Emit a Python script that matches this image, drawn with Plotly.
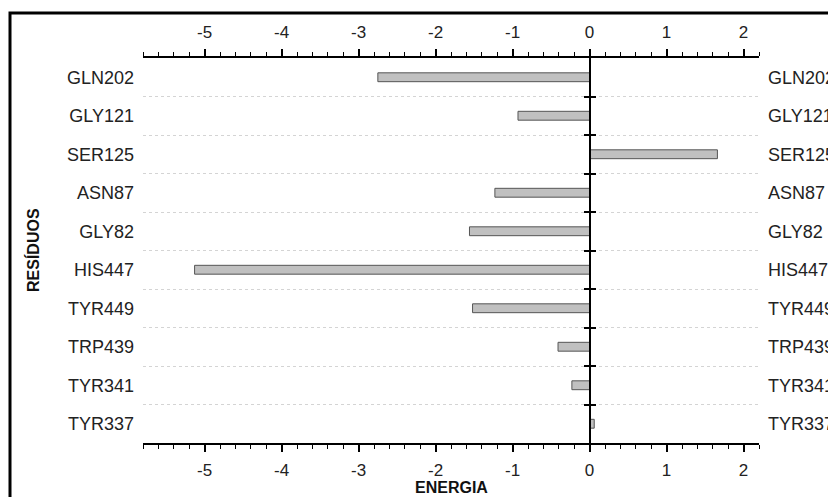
import plotly.graph_objects as go

residues = ["GLN202", "GLY121", "SER125", "ASN87", "GLY82",
            "HIS447", "TYR449", "TRP439", "TYR341", "TYR337"]
energy = [-2.75, -0.93, 1.66, -1.23, -1.56, -5.13, -1.52, -0.41, -0.23, 0.06]
x_ticks = [-5, -4, -3, -2, -1, 0, 1, 2]
x_tick_labels = ["-5", "-4", "-3", "-2", "-1", "0", "1", "2"]

idx = list(range(len(residues)))
bounds = [i + 0.5 for i in idx[:-1]]
yr = [len(residues) - 0.5, -0.5]
xr = [-5.8, 2.2]
zero_pos = (0 - xr[0]) / (xr[1] - xr[0])

FONT = "Liberation Sans, Arial, sans-serif"
# page body has an 8px default margin; figure is sized to fit the window
OFF = 8
W, H = 836 - OFF, 497 - OFF
PL, PR, PT, PB = 143, 759, 58, 443  # plot area in screen pixels
PW, PH = PR - PL, PB - PT

fig = go.Figure()
fig.add_trace(go.Bar(
    x=energy, y=idx, orientation="h", width=0.23,
    marker=dict(color="#c0c0c0", line=dict(color="#555555", width=1)),
    showlegend=False, hoverinfo="x+y",
))
fig.add_trace(go.Scatter(x=[xr[0]], y=[0], xaxis="x2", yaxis="y", mode="markers",
                         marker=dict(opacity=0), showlegend=False, hoverinfo="skip"))

common_x = dict(range=xr, tickvals=x_ticks, ticktext=x_tick_labels, showgrid=False, zeroline=False,
                showline=True, linecolor="black", linewidth=1.5, automargin=False,
                ticks="outside", ticklen=7, tickwidth=1.5, tickcolor="black",
                ticklabelstandoff=4,
                minor=dict(dtick=0.2, ticks="outside", ticklen=4, tickwidth=1, tickcolor="black"),
                tickfont=dict(family=FONT, size=17, color="#222"))

fig.update_layout(
    width=W, height=H,
    margin=dict(l=PL - OFF, r=W - (PR - OFF), t=PT - OFF, b=H - (PB - OFF)),
    paper_bgcolor="white", plot_bgcolor="white",
    xaxis=dict(**common_x, side="bottom"),
    xaxis2=dict(**common_x, side="top", overlaying="x", anchor="y", matches="x"),
    yaxis=dict(range=yr, tickvals=idx, ticktext=residues, showgrid=False, zeroline=False,
               showline=False, ticks="", ticklabelstandoff=8, automargin=False,
               tickfont=dict(family=FONT, size=18, color="#222")),
    yaxis2=dict(range=yr, tickvals=idx, ticktext=residues, overlaying="y", side="right",
                showgrid=False, zeroline=False, showline=False, ticks="", anchor="x",
                ticklabelstandoff=8, automargin=False,
                tickfont=dict(family=FONT, size=18, color="#222")),
    yaxis3=dict(range=yr, tickvals=bounds, overlaying="y", anchor="free", position=zero_pos,
                side="left", showticklabels=False, showgrid=True, gridcolor="#d4d4d4",
                griddash="dot", gridwidth=1, zeroline=False, automargin=False,
                showline=True, linecolor="black", linewidth=1.5,
                ticks="outside", ticklen=5, tickwidth=1.5, tickcolor="black"),
    yaxis4=dict(range=yr, tickvals=bounds, overlaying="y", anchor="free", position=zero_pos,
                side="left", showticklabels=False, showgrid=False, zeroline=False,
                automargin=False,
                showline=False, ticks="inside", ticklen=5, tickwidth=1.5, tickcolor="black"),
)

fig.add_trace(go.Scatter(x=[xr[0]], y=[0], yaxis="y2", mode="markers",
                         marker=dict(opacity=0), showlegend=False, hoverinfo="skip"))
fig.add_trace(go.Scatter(x=[xr[0]], y=[0], yaxis="y3", mode="markers",
                         marker=dict(opacity=0), showlegend=False, hoverinfo="skip"))
fig.add_trace(go.Scatter(x=[xr[0]], y=[0], yaxis="y4", mode="markers",
                         marker=dict(opacity=0), showlegend=False, hoverinfo="skip"))

fig.add_annotation(text="<b>ENERGIA</b>", xref="paper", yref="paper",
                   x=0.5, y=(PB - 487) / PH, xanchor="center", yanchor="middle",
                   showarrow=False, font=dict(family=FONT, size=16, color="#111"))
fig.add_annotation(text="<b>RESÍDUOS</b>", xref="paper", yref="paper",
                   x=(33 - PL) / PW, y=(PB - 250) / PH, textangle=-90,
                   xanchor="center", yanchor="middle",
                   showarrow=False, font=dict(family=FONT, size=16, color="#111"))

fig.add_shape(type="rect", xref="paper", yref="paper",
              x0=(10 - PL) / PW, x1=(850 - PL) / PW,
              y0=(PB - 520) / PH, y1=(PB - 13) / PH,
              line=dict(color="black", width=3), fillcolor="rgba(0,0,0,0)", layer="below")

fig.write_html("out.html")
